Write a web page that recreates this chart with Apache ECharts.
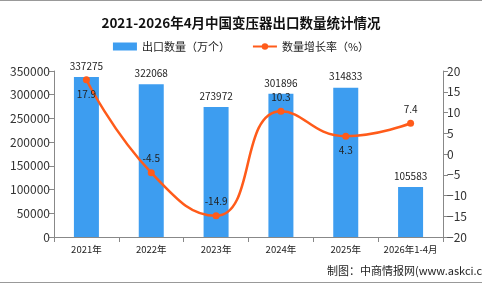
<!DOCTYPE html>
<html><head><meta charset="utf-8">
<script src="https://cdn.jsdelivr.net/npm/echarts@6/dist/echarts.min.js"></script>
<style>html,body{margin:0;padding:0;background:#fff}#c{width:482px;height:284px;position:relative}
.b{position:absolute;left:0;width:482px;height:1px;background:#999}</style>
</head><body>
<div id="c"></div>
<div class="b" style="top:0"></div><div class="b" style="top:282px"></div>
<script>
const categories = ['2021年','2022年','2023年','2024年','2025年','2026年1-4月'];
const exportQty = [337275, 322068, 273972, 301896, 314833, 105583];
const growthRate = [17.9, -4.5, -14.9, 10.3, 4.3, 7.4];
const growthLabelPos = ['bottom','top','top','top','bottom','top'];
const leftTicks = {min:0, max:350000, interval:50000};
const rightTicks = {min:-20, max:20, interval:5};

const font = '"Noto Sans CJK SC", sans-serif';
const chart = echarts.init(document.getElementById('c'));
chart.setOption({
  animation:false,
  title:{text:'2021-2026年4月中国变压器出口数量统计情况', left:'center', top:11,
    textStyle:{fontSize:13.5, fontWeight:'bold', color:'#111', fontFamily:font}},
  legend:{top:36, left:'center', itemGap:22, itemWidth:24, itemHeight:8,
    textStyle:{fontSize:11, color:'#222', fontFamily:font},
    data:[{name:'出口数量（万个）', icon:'rect'},{name:'数量增长率（%）'}]},
  grid:{left:54, right:39, top:71, bottom:47},
  xAxis:{type:'category', data:categories,
    axisLine:{lineStyle:{color:'#888'}},
    axisTick:{show:true, alignWithLabel:false, lineStyle:{color:'#888'}},
    axisLabel:{interval:0, fontSize:9.5, color:'#222', fontFamily:font, margin:8}},
  yAxis:[
    {type:'value', min:leftTicks.min, max:leftTicks.max, interval:leftTicks.interval,
      splitLine:{show:false}, axisLine:{show:true, lineStyle:{color:'#888'}},
      axisTick:{show:true, lineStyle:{color:'#888'}},
      axisLabel:{fontSize:12, color:'#333', fontFamily:font, margin:4, formatter:v=>String(v)}},
    {type:'value', min:rightTicks.min, max:rightTicks.max, interval:rightTicks.interval,
      splitLine:{show:false}, axisLine:{show:true, lineStyle:{color:'#888'}},
      axisTick:{show:true, lineStyle:{color:'#888'}},
      axisLabel:{fontSize:12, color:'#333', fontFamily:font, margin:4,
        formatter:v=>String(v).replace('-','−')}}
  ],
  series:[
    {name:'出口数量（万个）', type:'bar', data:exportQty, barWidth:25,
      itemStyle:{color:'#3d9df0'},
      label:{show:true, position:'top', fontSize:10, color:'#222', fontFamily:font, distance:6}},
    {name:'数量增长率（%）', type:'line', yAxisIndex:1, smooth:true,
      data:growthRate.map((v,i)=>({value:v, label:{position:growthLabelPos[i]}})),
      symbol:'circle', symbolSize:7,
      lineStyle:{color:'#ff5b1a', width:2.5}, itemStyle:{color:'#ff5b1a'},
      label:{show:true, fontSize:10, color:'#222', fontFamily:font, distance:6}}
  ],
  graphic:[{type:'text', left:327, top:265,
    style:{text:'制图：中商情报网(www.askci.com)', fontSize:11, fill:'#222', fontFamily:font}}]
});
</script>
</body></html>
